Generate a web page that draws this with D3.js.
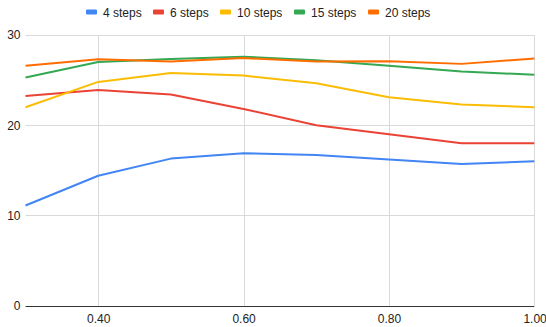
<!DOCTYPE html>
<html><head><meta charset="utf-8">
<script src="https://cdn.jsdelivr.net/npm/d3@7"></script>
<style>body{margin:0;background:#fff}svg{display:block;font-family:Arial,"Liberation Sans",sans-serif}</style>
</head><body><svg id="c" width="546" height="327"></svg>
<script>
const xValues = [0.3, 0.4, 0.5, 0.6, 0.7, 0.8, 0.9, 1.0];
const seriesNames = ["4 steps", "6 steps", "10 steps", "15 steps", "20 steps"];
const steps4  = [11.1, 14.4, 16.3, 16.9, 16.7, 16.2, 15.7, 16.0];
const steps6  = [23.25, 23.9, 23.4, 21.8, 20.0, 19.0, 18.0, 18.0];
const steps10 = [22.0, 24.8, 25.8, 25.5, 24.65, 23.1, 22.3, 22.0];
const steps15 = [25.3, 27.0, 27.35, 27.6, 27.2, 26.6, 25.95, 25.6];
const steps20 = [26.6, 27.3, 27.05, 27.45, 27.05, 27.1, 26.8, 27.4];
const xTicks = [0.4, 0.6, 0.8, 1.0];
const yTicks = [0, 10, 20, 30];
const colors = ["#4285F4", "#EA4335", "#FBBC04", "#34A853", "#FF6D01"];
const series = [steps4, steps6, steps10, steps15, steps20];

const svg = d3.select("#c");
const x = d3.scaleLinear().domain([0.3, 1.0]).range([25.5, 534.3]);
const y = d3.scaleLinear().domain([0, 30]).range([305.7, 35]);

// grid
const g = svg.append("g");
g.selectAll(".hg").data(yTicks.filter(d => d > 0)).join("line")
  .attr("x1", x(0.3)).attr("x2", x(1.0))
  .attr("y1", d => Math.round(y(d)) + 0.5).attr("y2", d => Math.round(y(d)) + 0.5)
  .attr("stroke", "#d9d9d9").attr("stroke-width", 1);
g.selectAll(".vg").data(xTicks).join("line")
  .attr("x1", d => Math.round(x(d)) + 0.5).attr("x2", d => Math.round(x(d)) + 0.5)
  .attr("y1", y(30)).attr("y2", y(0))
  .attr("stroke", "#d9d9d9").attr("stroke-width", 1);

// axes
const yAxis = d3.axisLeft(y).tickValues(yTicks).tickSize(0).tickPadding(5).tickFormat(d3.format("d"));
const ya = svg.append("g").attr("transform", `translate(${x(0.3)},0)`).call(yAxis);
ya.select(".domain").remove();
ya.selectAll("text").attr("font-size", 12).attr("fill", "#222").attr("font-family", "Arial, 'Liberation Sans', sans-serif");

const xAxis = d3.axisBottom(x).tickValues(xTicks).tickSize(0).tickPadding(9).tickFormat(d3.format(".2f"));
const xa = svg.append("g").attr("transform", `translate(0,${y(0)})`).call(xAxis);
xa.select(".domain").remove();
xa.selectAll("text").attr("font-size", 12).attr("fill", "#222").attr("font-family", "Arial, 'Liberation Sans', sans-serif")
  .attr("text-anchor", d => d === 1.0 ? "end" : "middle")
  .attr("dx", d => d === 1.0 ? 12 : 0);

svg.append("line").attr("x1", x(0.3)).attr("x2", x(1.0))
  .attr("y1", Math.round(y(0)) + 0.5).attr("y2", Math.round(y(0)) + 0.5)
  .attr("stroke", "#333").attr("stroke-width", 1);

// lines
const line = d3.line().x((d, i) => x(xValues[i])).y(d => y(d));
svg.selectAll(".ln").data(series).join("path")
  .attr("d", d => line(d)).attr("fill", "none")
  .attr("stroke", (d, i) => colors[i]).attr("stroke-width", 2)
  .attr("stroke-linejoin", "round");

// legend
const legendX = [86, 153, 220, 294, 368];
const lg = svg.append("g");
seriesNames.forEach((n, i) => {
  lg.append("rect").attr("x", legendX[i]).attr("y", 9.5).attr("width", 11).attr("height", 5)
    .attr("rx", 1).attr("fill", colors[i]);
  lg.append("text").attr("x", legendX[i] + 17).attr("y", 16.5).attr("font-size", 12)
    .attr("fill", "#222").text(n);
});
</script></body></html>
